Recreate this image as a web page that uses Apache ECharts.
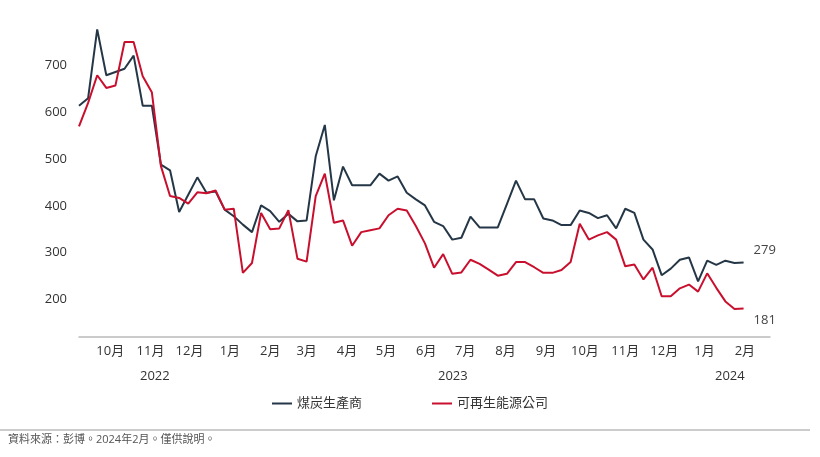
<!DOCTYPE html>
<html><head><meta charset="utf-8">
<script src="https://cdn.jsdelivr.net/npm/echarts@6/dist/echarts.min.js"></script>
<style>html,body{margin:0;background:#fff}#c{width:820px;height:457px}</style>
</head><body><div id="c"></div>
<script>
const startDate = '2022-09-07';
const coal = [614,630,777,679,686,693,721,614,614,488,476,387,424,461,428,431,392,378,360,344,401,389,366,383,367,369,506,573,412,484,444,444,444,469,454,463,428,414,401,366,357,328,332,377,354,354,354,404,454,414,414,373,369,359,359,390,385,374,380,352,394,385,328,307,252,266,285,290,239,283,274,283,278,279];
const renew = [570,620,679,652,657,750,750,677,643,485,421,417,405,429,427,433,392,394,257,278,385,350,352,391,287,281,421,469,364,369,315,344,348,352,380,394,390,357,320,268,297,255,258,285,276,264,251,255,280,280,269,257,257,263,280,362,328,337,344,328,271,275,243,268,207,207,224,232,217,256,225,196,180,181];
const monthTicks = ['2022-10-01','2022-11-01','2022-12-01','2023-01-01','2023-02-01','2023-03-01','2023-04-01','2023-05-01','2023-06-01','2023-07-01','2023-08-01','2023-09-01','2023-10-01','2023-11-01','2023-12-01','2024-01-01','2024-02-01'];
const monthLabels = ['10月','11月','12月','1月','2月','3月','4月','5月','6月','7月','8月','9月','10月','11月','12月','1月','2月'];
const yTicks = [200,300,400,500,600,700];
const names = ['煤炭生產商','可再生能源公司'];
const years = ['2022','2023','2024'];

const t0 = Date.parse(startDate+'T00:00:00Z');
const wk = 7*24*3600*1000;
const tickPos = monthTicks.map(d=>(Date.parse(d+'T00:00:00Z')-t0)/wk);
const pts = arr => arr.map((v,i)=>[i, v]);
const chart = echarts.init(document.getElementById('c'));
const font = 'Open Sans, Noto Sans CJK TC, sans-serif';
chart.setOption({
  animation:false,
  textStyle:{fontFamily:font},
  grid:{left:79,right:50,top:28,bottom:120},
  xAxis:{type:'value', min:0, max:75.9,
    axisLine:{lineStyle:{color:'#bbb',width:1.5}}, axisTick:{show:false}, splitLine:{show:false},
    axisLabel:{customValues:tickPos, color:'#333', fontSize:13, margin:8, hideOverlap:false, showMinLabel:true, showMaxLabel:true,
      formatter:v=>{let k=0,b=1e9;tickPos.forEach((p,i)=>{if(Math.abs(p-v)<b){b=Math.abs(p-v);k=i;}});return monthLabels[k];}}},
  yAxis:{type:'value', min:120, max:780, splitLine:{show:false}, axisLine:{show:false}, axisTick:{show:false},
    axisLabel:{customValues:yTicks, color:'#333', fontSize:13, margin:12}},
  legend:{bottom:42, left:'center', itemGap:70, itemWidth:20, itemHeight:2, icon:'rect',
    textStyle:{color:'#333', fontSize:13, fontFamily:font}, data:names},
  graphic:[
    {type:'text', left:140, top:370, style:{text:years[0], fill:'#333', font:'13px '+font}},
    {type:'text', left:438, top:370, style:{text:years[1], fill:'#333', font:'13px '+font}},
    {type:'text', left:715, top:370, style:{text:years[2], fill:'#333', font:'13px '+font}},
    {type:'line', shape:{x1:0,y1:430,x2:810,y2:430}, style:{stroke:'#999',lineWidth:1}},
    {type:'text', left:8, top:434, style:{text:'資料來源：彭博。2024年2月。僅供說明。', fill:'#555', font:'11px '+font}}
  ],
  series:[
    {name:names[0], type:'line', data:pts(coal), showSymbol:false, color:'#253746', lineStyle:{width:2},
      endLabel:{show:true, formatter:p=>p.value[1], color:'#444', fontSize:13, offset:[2,-12]}},
    {name:names[1], type:'line', data:pts(renew), showSymbol:false, color:'#c8102e', lineStyle:{width:2},
      endLabel:{show:true, formatter:p=>p.value[1], color:'#444', fontSize:13, offset:[2,12]}}
  ]
});
</script></body></html>
